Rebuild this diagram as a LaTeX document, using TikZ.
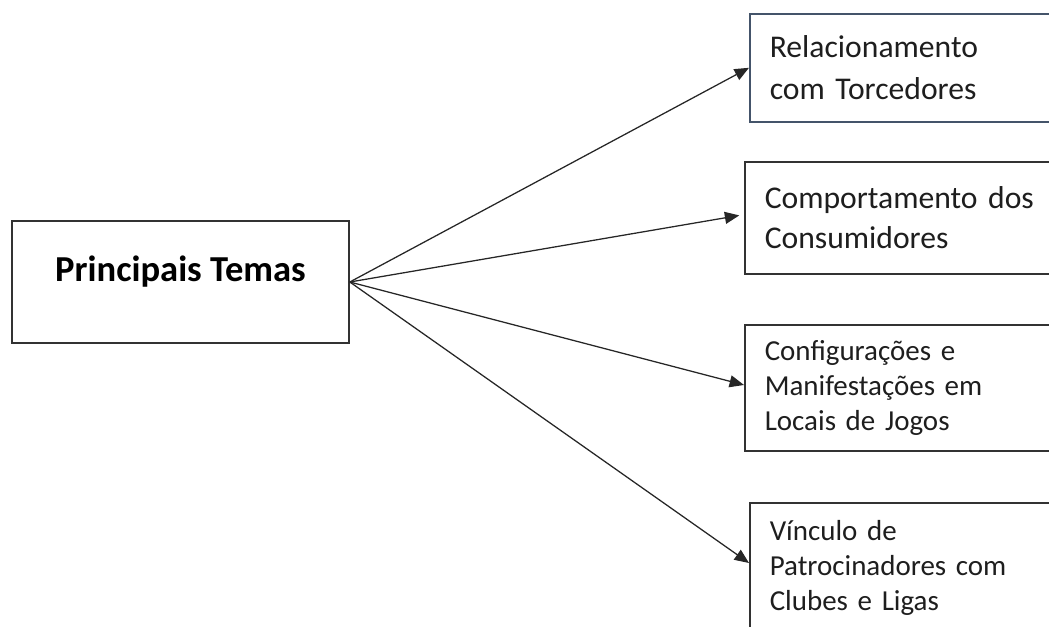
\documentclass[tikz,border=0pt]{standalone}
\usepackage{fontspec}
\setmainfont{Carlito}
\usepackage{tikz}
\usepackage{xcolor}
\usetikzlibrary{arrows.meta,positioning,shapes,calc}
\definecolor{bordaazul}{RGB}{68,84,106}
\definecolor{bordacinza}{RGB}{50,50,50}
\definecolor{textocinza}{RGB}{30,30,30}

\begin{document}
\begin{tikzpicture}[x=0.025cm, y=-0.025cm,
    temabox/.style={draw=bordacinza, line width=1.1pt, anchor=north west, align=left,
        text width=7cm, inner xsep=0.5cm, text=textocinza},
    seta/.style={-{Triangle[length=0.36cm, width=0.3cm]}, line width=0.9pt, black!85}]
% Fix size of the page to the reference
\useasboundingbox (0,0) rectangle (1049,626);
\clip (0,0) rectangle (1049,626);

% Central box
\node[draw=bordacinza, line width=1.1pt, minimum width=8.425cm, minimum height=3.05cm,
    text depth=0.65cm, font=\fontsize{26}{31}\selectfont\bfseries, text=black]
    (temas) at (180.5,282) {Principais Temas};

% Theme boxes (right edge runs off the page)
\node[temabox, draw=bordaazul, minimum height=2.7cm, font=\fontsize{22.5}{29.5}\selectfont]
    (torcedores) at (749,13) {Relacionamento\\com Torcedores};
\node[temabox, minimum height=2.8cm, font=\fontsize{22.5}{28.5}\selectfont]
    (consumidores) at (744,161) {Comportamento dos\\Consumidores};
\node[temabox, minimum height=3.15cm, font=\fontsize{20.6}{25}\selectfont]
    (locais) at (744,324) {Configurações e\\Manifestações em\\Locais de Jogos};
\node[temabox, minimum height=3.25cm, font=\fontsize{20.6}{25}\selectfont]
    (patrocinio) at (749,502) {Vínculo de\\Patrocinadores com\\Clubes e Ligas};

% Arrows from the central box
\draw[seta] (temas.east) -- (torcedores.west);
\draw[seta, shorten >=0.12cm] (temas.east) -- ([yshift=0.08cm]consumidores.west);
\draw[seta] (temas.east) -- ([yshift=0.07cm]locais.west);
\draw[seta] (temas.east) -- ([yshift=0.12cm]patrocinio.west);

\end{tikzpicture}
\end{document}
